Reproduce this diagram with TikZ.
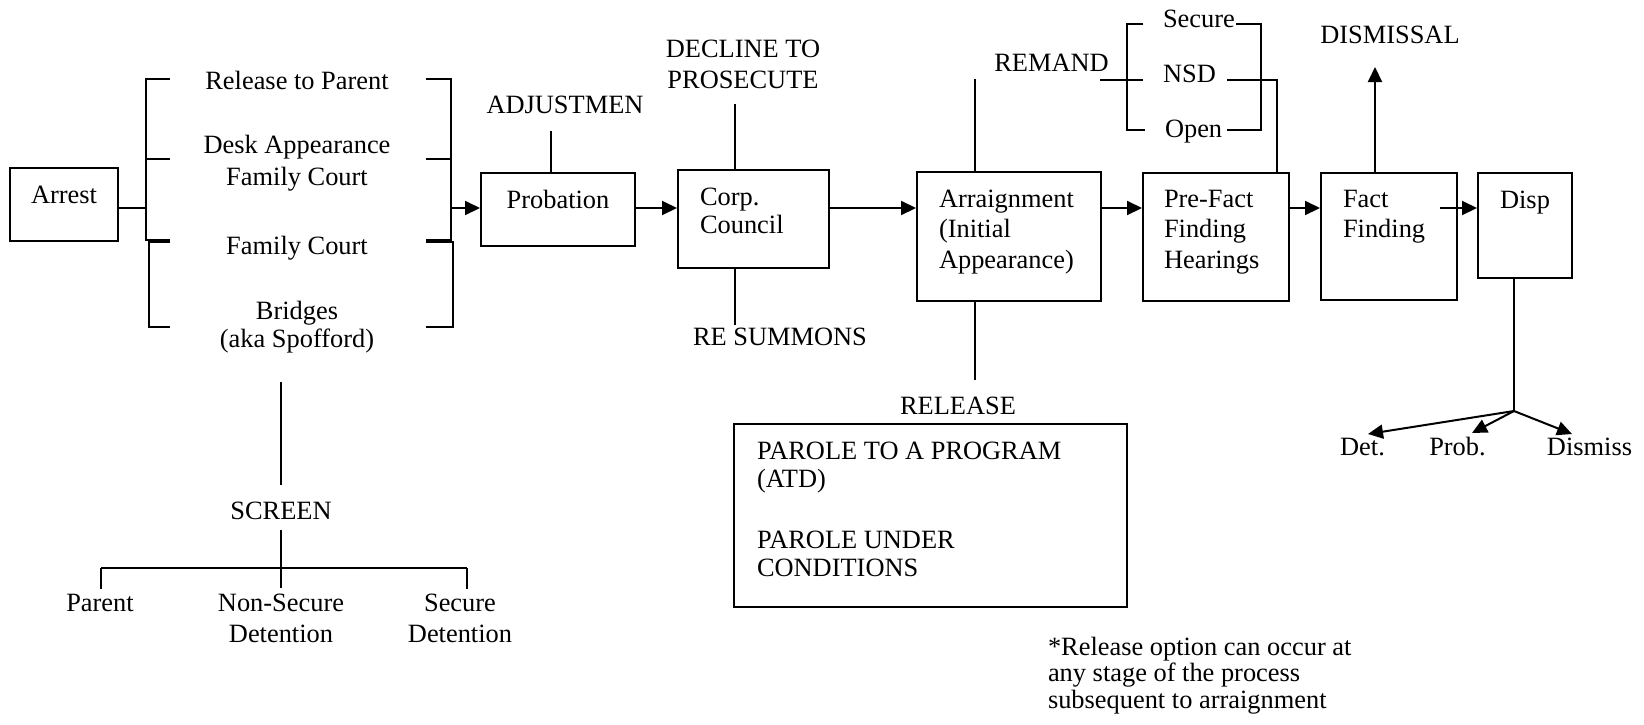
\documentclass[tikz,border=0pt]{standalone}
\usepackage{fontspec}
\setmainfont{Liberation Serif}
\usetikzlibrary{arrows.meta,fit}
\newcommand{\mytab}[3]{\fontsize{13.2}{#1}\selectfont\begin{tabular}[t]{@{}#2@{}}#3\end{tabular}}
\begin{document}
\begin{tikzpicture}[x=0.5pt,y=-0.5pt,line width=1pt,
  font=\fontsize{13.2}{15.5}\selectfont,
  box/.style={draw,line width=1pt,inner sep=0pt},
  txt/.style={inner sep=0pt,anchor=base},
  txtl/.style={inner sep=0pt,anchor=base west},
  arr/.style={-{Triangle[length=7.5pt,width=7pt]}}]
\useasboundingbox (0,0) rectangle (1644,724);

% ---------- boxes ----------
\node[box,fit={(10,168) (118,241)}] (arrest) {};
\node[box,fit={(481,173) (635,246)}] (prob) {};
\node[box,fit={(678,170) (829,268)}] (corp) {};
\node[box,fit={(917,172) (1101,301)}] (arrn) {};
\node[box,fit={(1143,173) (1289,301)}] (pre) {};
\node[box,fit={(1321,173) (1457,300)}] (fact) {};
\node[box,fit={(1478,173) (1572,278)}] (disp) {};
\node[box,fit={(734,424) (1127,607)}] (relbox) {};

% ---------- texts ----------
\node[txt] (arresttxt) at (64,203) {Arrest};
\node[txt] (rtp) at (297,89) {Release to Parent};
\node[txt] (desk) at (297,153) {\mytab{16pt}{c}{Desk Appearance\\Family Court}};
\node[txt] (fc) at (297,254) {Family Court};
\node[txt] (bridges) at (297,319) {\mytab{14pt}{c}{Bridges\\(aka Spofford)}};
\node[txt] (screen) at (281,519) {SCREEN};
\node[txt] (parent) at (100,611) {Parent};
\node[txt] (nsdet) at (281,611) {\mytab{15.5pt}{c}{Non-Secure\\Detention}};
\node[txt] (sdet) at (460,611) {\mytab{15.5pt}{c}{Secure\\Detention}};
\node[txt] (probtxt) at (558,208) {Probation};
\node[txt] (adj) at (565,113) {ADJUSTMEN};
\node[txtl] (corptxt) at (699,205) {\mytab{14pt}{l}{Corp.\\Council}};
\node[txt] (decline) at (743,57) {\mytab{15.5pt}{c}{DECLINE TO\\PROSECUTE}};
\node[txt] (resum) at (780,345) {RE SUMMONS};
\node[txtl] (arrtxt) at (938,207) {\mytab{15.25pt}{l}{Arraignment\\(Initial\\Appearance)}};
\node[txt] (release) at (958,414) {RELEASE};
\node[txtl] (paroletxt) at (756,459) {\mytab{14pt}{l}{PAROLE TO A PROGRAM\\(ATD)\\[16.5pt]PAROLE UNDER\\CONDITIONS}};
\node[txt] (remand) at (1051.5,71) {REMAND};
\node[txtl] (secure) at (1162,27) {Secure};
\node[txtl] (nsd) at (1162,82) {NSD};
\node[txtl] (open) at (1164,137) {Open};
\node[txtl] (pretxt) at (1163,207) {\mytab{15.25pt}{l}{Pre-Fact\\Finding\\Hearings}};
\node[txtl] (facttxt) at (1342,207) {\mytab{15pt}{l}{Fact\\Finding}};
\node[txt] (dismissal) at (1390,43) {DISMISSAL};
\node[txt] (disptxt) at (1525,208) {Disp};
\node[txt] (det) at (1362.5,455) {Det.};
\node[txt] (probo) at (1457.5,455) {Prob.};
\node[txt] (dismiss) at (1589.5,455) {Dismiss};
\node[txtl] (note) at (1047,655) {\mytab{13.25pt}{l}{*Release option can occur at\\any stage of the process\\subsequent to arraignment}};

% ---------- brackets after arrest ----------
\draw (170,79) -- (146,79) -- (146,240) -- (170,240);
\draw (146,159) -- (170,159);
\draw (170,242) -- (149,242) -- (149,327) -- (170,327);
\draw (426,79) -- (451,79) -- (451,240) -- (426,240);
\draw (426,159) -- (451,159);
\draw (426,242) -- (453,242) -- (453,327) -- (426,327);

\coordinate (jL) at (146,208);
\coordinate (jR) at (451,208);
\draw (arrest.east |- jL) -- (jL);

% ---------- main flow ----------
\draw[arr] (jR) -- (jR -| prob.west);
\draw[arr] (prob.east |- jR) -- (jR -| corp.west);
\draw[arr] (corp.east |- jR) -- (jR -| arrn.west);
\draw[arr] (arrn.east |- jR) -- (jR -| pre.west);
\draw[arr] (pre.east |- jR) -- (jR -| fact.west);
\coordinate (ffs) at (1440,208);
\draw[arr] (ffs) -- (ffs -| disp.west);

% ---------- side branches ----------
\coordinate (adjl) at (551,131);
\draw (adjl) -- (adjl |- prob.north);
\coordinate (decl) at (735,104);
\draw (decl) -- (decl |- corp.north);
\coordinate (resl) at (735,325);
\draw (resl |- corp.south) -- (resl);
\coordinate (reml) at (975,79);
\draw (reml) -- (reml |- arrn.north);
\coordinate (rell) at (975,380);
\draw (rell |- arrn.south) -- (rell);

% remand bracket
\draw (1100,80) -- (1143,80);
\draw (1143,24) -- (1127,24) -- (1127,130) -- (1145,130);
\draw (1236,24) -- (1261,24) -- (1261,130) -- (1227,130);
\coordinate (nsdl) at (1227,80);
\coordinate (nsdc) at (1277,80);
\draw (nsdl) -- (nsdc) -- (nsdc |- pre.north);

% dismissal
\coordinate (dtop) at (1375,67);
\draw[arr] (dtop |- fact.north) -- (dtop);

% disposition fan
\coordinate (dj) at (1514,411);
\coordinate (detp) at (1368,434);
\coordinate (probp) at (1472,433);
\coordinate (disp2) at (1572,434);
\draw (dj |- disp.south) -- (dj);
\draw[arr] (dj) -- (detp);
\draw[arr] (dj) -- (probp);
\draw[arr] (dj) -- (disp2);

% screen tree
\coordinate (s1) at (281,382);
\coordinate (s2) at (281,485);
\coordinate (s3) at (281,530);
\coordinate (s4) at (281,588);
\coordinate (hl) at (101,568);
\coordinate (hr) at (467,568);
\draw (s1) -- (s2);
\draw (s3) -- (s4);
\draw (hl) -- (hr);
\draw (hl) -- ++(0,21);
\draw (hr) -- ++(0,21);
\end{tikzpicture}
\end{document}
